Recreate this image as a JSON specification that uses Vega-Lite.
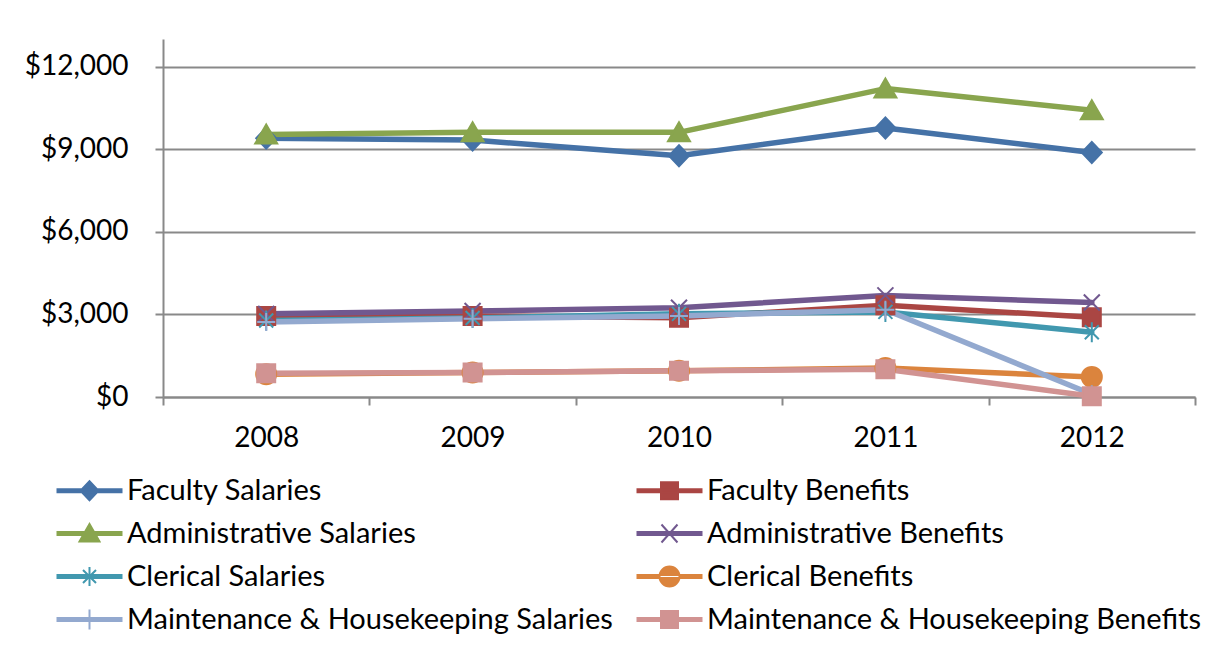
{
  "$schema": "https://vega.github.io/schema/vega-lite/v6.json",
  "width": 1032,
  "height": 358,
  "autosize": {"type": "none"},
  "padding": {"left": 163, "top": 39, "right": 30, "bottom": 254},
  "background": "white",
  "config": {"view": {"stroke": null}, "font": "Lato"},
  "data": {
    "values": [
      {"series": "Faculty Salaries", "year": "2008", "value": 9400},
      {"series": "Faculty Salaries", "year": "2009", "value": 9330},
      {"series": "Faculty Salaries", "year": "2010", "value": 8760},
      {"series": "Faculty Salaries", "year": "2011", "value": 9770},
      {"series": "Faculty Salaries", "year": "2012", "value": 8880},
      {"series": "Faculty Benefits", "year": "2008", "value": 2940},
      {"series": "Faculty Benefits", "year": "2009", "value": 2940},
      {"series": "Faculty Benefits", "year": "2010", "value": 2880},
      {"series": "Faculty Benefits", "year": "2011", "value": 3330},
      {"series": "Faculty Benefits", "year": "2012", "value": 2900},
      {"series": "Administrative Salaries", "year": "2008", "value": 9530},
      {"series": "Administrative Salaries", "year": "2009", "value": 9610},
      {"series": "Administrative Salaries", "year": "2010", "value": 9610},
      {"series": "Administrative Salaries", "year": "2011", "value": 11200},
      {"series": "Administrative Salaries", "year": "2012", "value": 10410},
      {"series": "Administrative Benefits", "year": "2008", "value": 3020},
      {"series": "Administrative Benefits", "year": "2009", "value": 3120},
      {"series": "Administrative Benefits", "year": "2010", "value": 3240},
      {"series": "Administrative Benefits", "year": "2011", "value": 3690},
      {"series": "Administrative Benefits", "year": "2012", "value": 3430},
      {"series": "Clerical Salaries", "year": "2008", "value": 2780},
      {"series": "Clerical Salaries", "year": "2009", "value": 2870},
      {"series": "Clerical Salaries", "year": "2010", "value": 3020},
      {"series": "Clerical Salaries", "year": "2011", "value": 3090},
      {"series": "Clerical Salaries", "year": "2012", "value": 2350},
      {"series": "Clerical Benefits", "year": "2008", "value": 830},
      {"series": "Clerical Benefits", "year": "2009", "value": 890},
      {"series": "Clerical Benefits", "year": "2010", "value": 950},
      {"series": "Clerical Benefits", "year": "2011", "value": 1050},
      {"series": "Clerical Benefits", "year": "2012", "value": 730},
      {"series": "Maintenance & Housekeeping Salaries", "year": "2008", "value": 2720},
      {"series": "Maintenance & Housekeeping Salaries", "year": "2009", "value": 2840},
      {"series": "Maintenance & Housekeeping Salaries", "year": "2010", "value": 2940},
      {"series": "Maintenance & Housekeeping Salaries", "year": "2011", "value": 3170},
      {"series": "Maintenance & Housekeeping Salaries", "year": "2012", "value": 100},
      {"series": "Maintenance & Housekeeping Benefits", "year": "2008", "value": 860},
      {"series": "Maintenance & Housekeeping Benefits", "year": "2009", "value": 890},
      {"series": "Maintenance & Housekeeping Benefits", "year": "2010", "value": 950},
      {"series": "Maintenance & Housekeeping Benefits", "year": "2011", "value": 1010},
      {"series": "Maintenance & Housekeeping Benefits", "year": "2012", "value": 30}
    ]
  },
  "encoding": {
    "x": {
      "field": "year",
      "type": "ordinal",
      "bandPosition": 0.5,
      "scale": {"type": "band", "paddingInner": 0, "paddingOuter": 0},
      "axis": {
        "title": null,
        "tickBand": "extent",
        "labelAngle": 0,
        "grid": false,
        "domainColor": "#898989",
        "domainWidth": 2,
        "tickColor": "#898989",
        "tickWidth": 2,
        "tickSize": 8,
        "labelFont": "Lato",
        "labelFontSize": 28,
        "labelColor": "black",
        "labelPadding": 19
      }
    },
    "y": {
      "field": "value",
      "type": "quantitative",
      "scale": {"domain": [0, 13000], "nice": false},
      "axis": {
        "title": null,
        "values": [0, 3000, 6000, 9000, 12000],
        "format": "$,.0f",
        "grid": true,
        "gridColor": "#898989",
        "gridWidth": 2,
        "domainColor": "#898989",
        "domainWidth": 2,
        "tickColor": "#898989",
        "tickWidth": 2,
        "tickSize": 8,
        "labelFont": "Lato",
        "labelFontSize": 28,
        "labelColor": "black",
        "labelPadding": 27
      }
    }
  },
  "layer": [
    {
      "mark": {"type": "line", "strokeWidth": 5.5, "strokeJoin": "round", "strokeCap": "round"},
      "encoding": {
        "color": {
          "field": "series",
          "type": "nominal",
          "scale": {
            "domain": ["Faculty Salaries", "Faculty Benefits", "Administrative Salaries", "Administrative Benefits", "Clerical Salaries", "Clerical Benefits", "Maintenance & Housekeeping Salaries", "Maintenance & Housekeeping Benefits"],
            "range": ["#4572A7", "#AA4643", "#89A54E", "#71588F", "#4198AF", "#DB843D", "#93A9CF", "#D19392"]
          },
          "legend": {
            "orient": "none",
            "direction": "horizontal",
            "legendX": -88,
            "legendY": 437,
            "columns": 2,
            "title": null,
            "padding": 0,
            "symbolSize": 400,
            "symbolStrokeWidth": 2,
            "symbolType": "circle",
            "symbolOpacity": 1,
            "labelFont": "Lato",
            "labelFontSize": 29,
            "labelColor": "black",
            "labelOffset": 23,
            "labelLimit": 0,
            "rowPadding": 13,
            "columnPadding": 20,
            "encode": {
              "symbols": {
                "update": {
                  "shape": {"signal": "datum.value === 'Faculty Salaries' ? 'M-3.2,-0.15H3.2V0.15H-3.2Z M0,-0.95L0.9,0L0,0.95L-0.9,0Z' : (datum.value === 'Faculty Benefits' || datum.value === 'Maintenance & Housekeeping Benefits') ? 'M-3.2,-0.15H3.2V0.15H-3.2Z M-0.85,-0.85H0.85V0.85H-0.85Z' : datum.value === 'Administrative Salaries' ? 'M-3.2,-0.15H3.2V0.15H-3.2Z M0,-0.95L1,0.8H-1Z' : datum.value === 'Administrative Benefits' ? 'M-3.2,-0.15H3.2V0.15H-3.2Z M-0.8,-0.9L0.8,0.9M-0.8,0.9L0.8,-0.9' : datum.value === 'Clerical Salaries' ? 'M-3.2,-0.15H3.2V0.15H-3.2Z M-0.65,-0.65L0.65,0.65M-0.65,0.65L0.65,-0.65M0,-0.95V0.95' : datum.value === 'Clerical Benefits' ? 'M-3.2,-0.15H3.2V0.15H-3.2Z M-1,0A1,1 0 1,0 1,0A1,1 0 1,0 -1,0Z' : 'M-3.2,-0.15H3.2V0.15H-3.2Z M0,-1V1'"}
                }
              }
            }
          }
        }
      }
    },
    {
      "mark": {"type": "point", "opacity": 1, "strokeWidth": 2, "size": 400},
      "encoding": {
        "fill": {
          "field": "series",
          "type": "nominal",
          "scale": {
            "domain": ["Faculty Salaries", "Faculty Benefits", "Administrative Salaries", "Administrative Benefits", "Clerical Salaries", "Clerical Benefits", "Maintenance & Housekeeping Salaries", "Maintenance & Housekeeping Benefits"],
            "range": ["#4572A7", "#AA4643", "#89A54E", "#71588F", "#4198AF", "#DB843D", "#93A9CF", "#D19392"]
          },
          "legend": null
        },
        "stroke": {
          "field": "series",
          "type": "nominal",
          "scale": {
            "domain": ["Faculty Salaries", "Faculty Benefits", "Administrative Salaries", "Administrative Benefits", "Clerical Salaries", "Clerical Benefits", "Maintenance & Housekeeping Salaries", "Maintenance & Housekeeping Benefits"],
            "range": ["#4572A7", "#AA4643", "#89A54E", "#71588F", "#4198AF", "#DB843D", "#93A9CF", "#D19392"]
          },
          "legend": null
        },
        "shape": {
          "field": "series",
          "type": "nominal",
          "scale": {
            "domain": ["Maintenance & Housekeeping Benefits", "Maintenance & Housekeeping Salaries", "Clerical Benefits", "Clerical Salaries", "Administrative Benefits", "Administrative Salaries", "Faculty Benefits", "Faculty Salaries"],
            "range": ["M-0.9,-0.9H0.9V0.9H-0.9Z", "M-0.9,0H0.9M0,-0.9V0.9", "circle", "M-0.7,-0.7L0.7,0.7M-0.7,0.7L0.7,-0.7M0,-1V1", "M-0.8,-0.8L0.8,0.8M-0.8,0.8L0.8,-0.8", "M0,-1L1.1,0.9H-1.1Z", "M-0.9,-0.9H0.9V0.9H-0.9Z", "M0,-1.05L1,0L0,1.05L-1,0Z"]
          },
          "legend": null
        }
      }
    }
  ]
}
